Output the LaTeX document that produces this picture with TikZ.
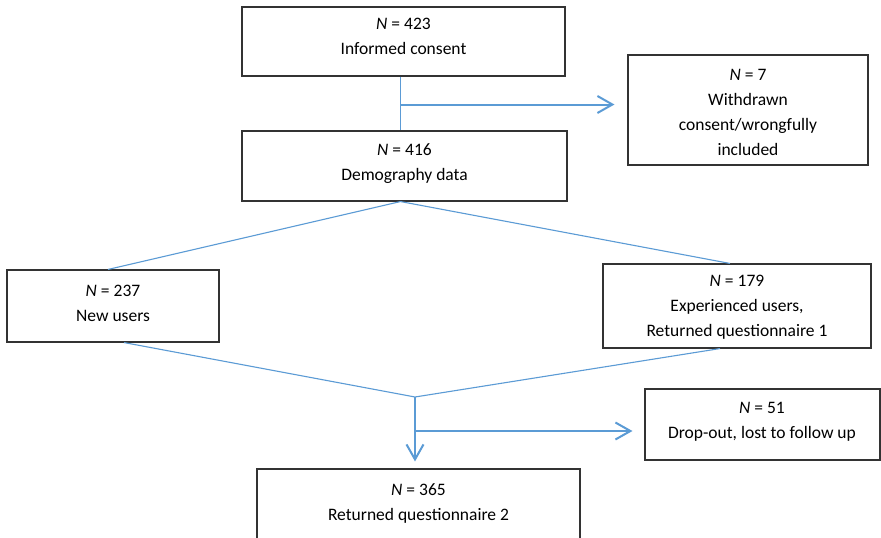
\documentclass[tikz,border=0pt]{standalone}
\usepackage{fontspec}
\setmainfont{Carlito}
\usetikzlibrary{arrows.meta,calc}
\definecolor{lnblue}{HTML}{5B9BD5}
\definecolor{boxc}{HTML}{333333}
\begin{document}
\begin{tikzpicture}[x=1pt,y=-1pt,
  box/.style={draw=boxc,line width=1.1pt,inner sep=0pt},
  txt/.style={align=center,font=\fontsize{17.5}{25}\selectfont,inner sep=0pt},
  thinline/.style={draw=lnblue,line width=1.1pt},
  arr/.style={draw=lnblue,line width=2pt,-{Straight Barb[length=15pt,width=17pt]}}]
\clip (0,0) rectangle (881,538);
\fill[white] (0,0) rectangle (881,538);
% boxes
\node[box,minimum width=323pt,minimum height=69pt] (b1) at (403.5,41.5) {};
\node[box,minimum width=240pt,minimum height=110pt] (b2) at (748,110) {};
\node[box,minimum width=325pt,minimum height=70pt] (b3) at (404.5,166) {};
\node[box,minimum width=212pt,minimum height=72pt] (b4) at (113,306) {};
\node[box,minimum width=268pt,minimum height=84pt] (b5) at (737,306) {};
\node[box,minimum width=235pt,minimum height=71pt] (b6) at (762.5,424.5) {};
\node[box,minimum width=323pt,minimum height=91pt] (b7) at (418.5,514.5) {};
% texts
\node[txt] (t1) at (403.5,36.5) {\textit{N} = 423\\Informed consent};
\node[txt] (t2) at (748,112) {\textit{N} = 7\\Withdrawn\\consent/wrongfully\\included};
\node[txt] (t3) at (404.5,164) {\textit{N} = 416\\Demography data};
\node[txt] (t4) at (113,303) {\textit{N} = 237\\New users};
\node[txt] (t5) at (737,307.5) {\textit{N} = 179\\Experienced users,\\Returned questionnaire 1};
\node[txt] (t6) at (762,422) {\textit{N} = 51\\Drop-out, lost to follow up};
\node[txt] (t7) at (418.5,503) {\textit{N} = 365\\Returned questionnaire 2};
% connectors
\coordinate (s1) at (400.5,104.5);
\draw[thinline] (s1 |- b1.south) -- (s1 |- b3.north);
\draw[arr,shorten >=13pt] (s1) -- (s1 -| b2.west);
\coordinate (d3) at (s1 |- b3.south);
\draw[thinline] ($(b4.north)+(-5,0)$) -- (d3) -- ($(b5.north)+(-7,0)$);
\coordinate (m) at (415,397);
\draw[thinline] ($(b4.south)+(11,0)$) -- (m) -- ($(b5.south)+(-17,0)$);
\draw[arr,shorten >=7pt] (m) -- (m |- b7.north);
\coordinate (s2) at (415,431);
\draw[arr,shorten >=12pt] (s2) -- (s2 -| b6.west);
\end{tikzpicture}
\end{document}
